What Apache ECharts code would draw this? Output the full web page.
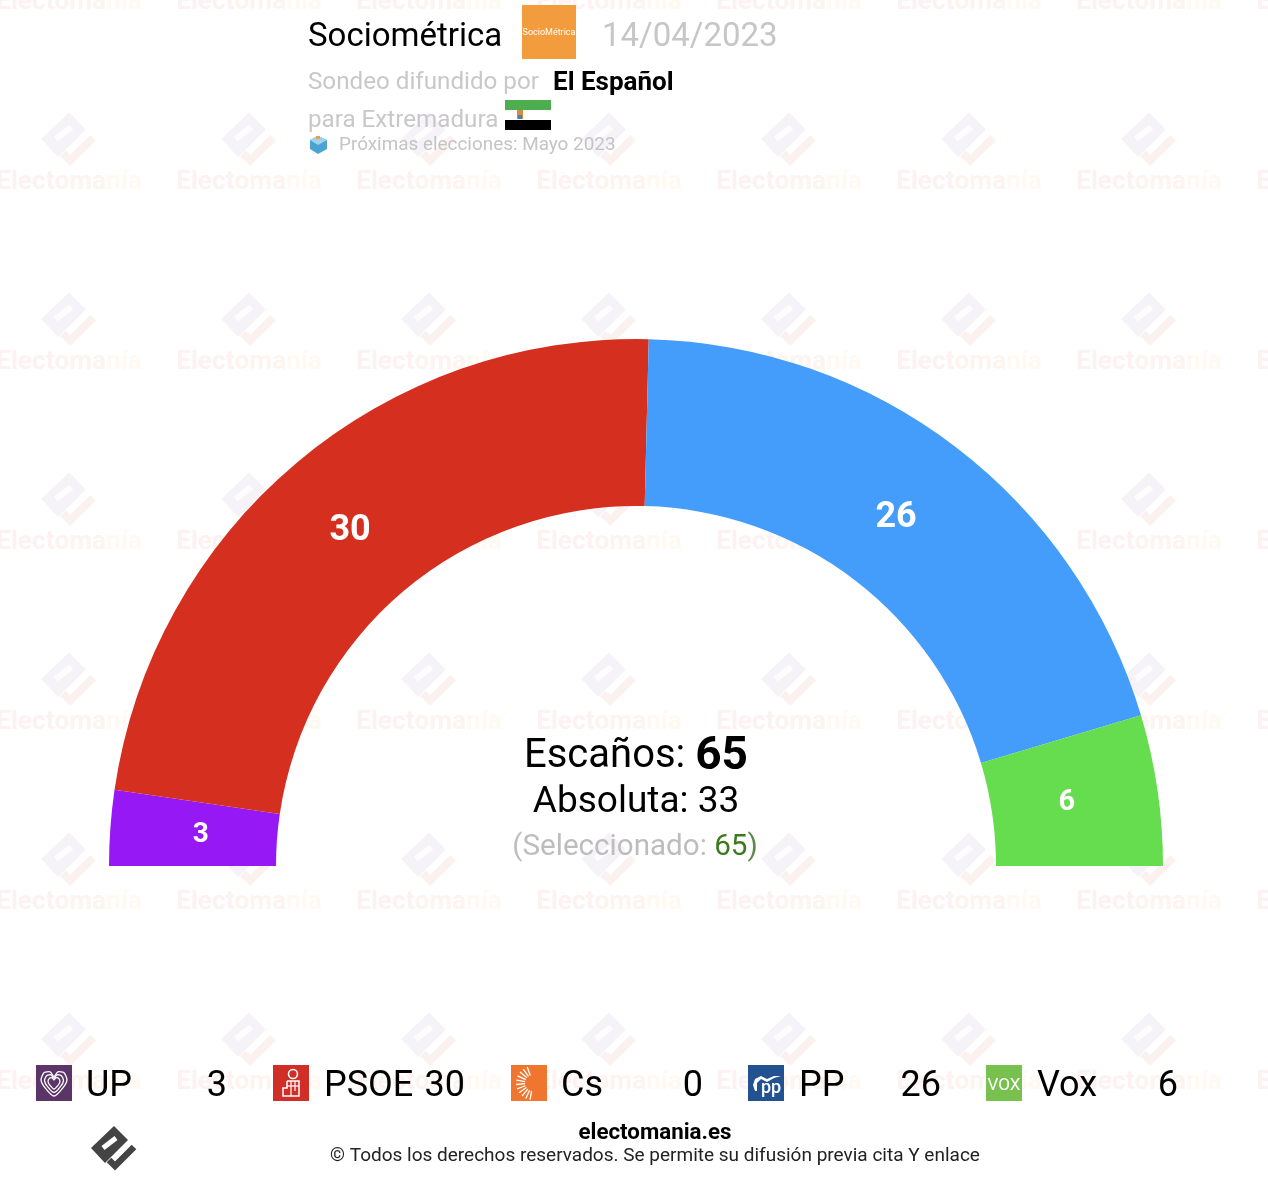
<!DOCTYPE html>
<html>
<head>
<meta charset="utf-8">
<style>html,body{margin:0;padding:0;background:#fff}#c{width:1268px;height:1184px}</style>
<script src="https://cdn.jsdelivr.net/npm/echarts@6/dist/echarts.min.js"></script>
</head>
<body>
<div id="c"></div>
<script>
const parties = ['UP', 'PSOE', 'Cs', 'PP', 'Vox'];
const seats = [3, 30, 0, 26, 6];
const arcColors = ['#9619f5', '#d52f1f', '#f07f2f', '#449dfa', '#66dd4e'];
const iconColors = ['#5b3568', '#d22e28', '#f0762f', '#22528f', '#78c14e'];
const totalSeats = 65;
const majority = 33;
const selected = 65;
const pollster = 'Sociométrica';
const pollDate = '14/04/2023';
const outlet = 'El Español';
const region = 'para Extremadura';
const nextElection = 'Próximas elecciones: Mayo 2023';

const F = 'Roboto, sans-serif';
const g = [];

function txt(x, y, text, size, fill, extra) {
  g.push({type:'text', x, y:y+size*0.08, z:(extra&&extra.z)||20, silent:true,
    style:Object.assign({text, fill, font:((extra&&extra.weight)||'400')+' '+size+'px '+F,
      textAlign:(extra&&extra.align)||'left', textVerticalAlign:'middle'}, extra&&extra.style)});
}
function poly(points, fill, z, smooth) { g.push({type:'polygon', z:z||20, silent:true, shape:{points, smooth:smooth||0}, style:{fill}}); }
function line(points, stroke, w, z, cap) {
  g.push({type:'polyline', z:z||20, silent:true, shape:{points},
    style:{stroke, lineWidth:w, fill:null, lineCap:cap||'butt', lineJoin:'miter'}});
}
function rect(x, y, w, h, fill, z) { g.push({type:'rect', z:z||20, silent:true, shape:{x,y,width:w,height:h}, style:{fill}}); }

/* brand mark: offsets relative to its centre, s = scale */
function mark(cx, cy, s, c1, c2, slot, z) {
  const P = (a, b) => [cx + a*s, cy + b*s];
  poly([P(-23,0),P(0,-22),P(14,-8),P(-9,15)], c1, z);
  line([P(-11,0),P(2,-10)], slot, 5*s, z);
  line([P(-5,12),P(1,18),P(20,-1)], c2, 6.5*s, z);
}

/* watermark tiles */
const wmX = [69, 249, 429, 609, 789, 969, 1149, 1329];
const wmY = [0, 180, 360, 540, 720, 900, 1080];
wmY.forEach(y => wmX.forEach(x => {
  if (y > 0) mark(x, y - 41, 1.2, '#f5f2f8', '#fbf1ef', '#fefdfe', 1);
  g.push({type:'text', x, y:y+2, z:1, silent:true, style:{
    text:'{a|Elect}{b|oma}{c|nía}', textAlign:'center', textVerticalAlign:'middle', font:'700 26.2px '+F,
    rich:{a:{fill:'#fdf2f1',font:'700 26.2px '+F},b:{fill:'#fdf4f0',font:'700 26.2px '+F},c:{fill:'#fff9f1',font:'700 26.2px '+F}}
  }});
}));

/* header */
txt(308, 35, pollster, 33, '#000');
rect(522, 5, 54, 54, '#f39c3d');
txt(549, 32, 'SocioMétrica', 9, '#fff', {align:'center'});
txt(602, 35, pollDate, 33, '#c6c6c6');
txt(308, 81, 'Sondeo difundido por', 24.2, '#c8c8c8');
txt(553, 81, outlet, 26, '#000', {weight:'700'});
txt(308, 119, region, 24.2, '#c8c8c8');
rect(505, 100, 46, 10, '#4cae4f');
rect(505, 120, 46, 10, '#000');
rect(517, 110, 6, 9, '#d98a3a');
rect(518, 115, 4, 4, '#4a7fb0');
poly([[310,140],[318,136],[327,140],[327,149],[318,154],[310,149]], '#4aa3d0');
poly([[310,140],[318,136],[327,140],[318,145]], '#9fd4ec');
poly([[316,136],[316,139],[320,139],[320,136]], '#f0a040');
txt(339, 144, nextElection, 18.9, '#c4c4c4');

/* centre block */
g.push({type:'text', x:636, y:757, z:20, silent:true, style:{
  text:'{a|Escaños: }{b|'+totalSeats+'}', textAlign:'center', textVerticalAlign:'middle',
  font:'400 40px '+F, rich:{a:{fill:'#000',font:'400 40px '+F},b:{fill:'#000',font:'700 46px '+F}}}});
txt(636, 800, 'Absoluta: '+majority, 37, '#000', {align:'center'});
g.push({type:'text', x:635, y:848, z:20, silent:true, style:{
  text:'{a|(Seleccionado: }{b|'+selected+'}{c|)}', textAlign:'center', textVerticalAlign:'middle',
  font:'400 29.6px '+F, rich:{a:{fill:'#bdbdbd',font:'400 29.6px '+F},b:{fill:'#3b7a1e',font:'400 29.6px '+F},c:{fill:'#5d8a4a',font:'400 29.6px '+F}}}});

/* legend row */
const iconX = [36, 273, 511, 748, 986];
const labelX = [86, 324, 561, 799, 1037];
const valueX = [227, 465, 703, 941, 1178];
parties.forEach((p, i) => {
  rect(iconX[i], 1065, 36, 36, iconColors[i]);
  txt(labelX[i], 1084, p, 36, '#000');
  txt(valueX[i], 1084, String(seats[i]), 36, '#000', {align:'right'});
});
/* UP heart */
const heartShape = [[0,1],[-0.7,0.35],[-1,-0.25],[-0.75,-0.8],[-0.3,-0.85],[0,-0.5],[0.3,-0.85],[0.75,-0.8],[1,-0.25],[0.7,0.35]];
[13, 9.5, 6].forEach(s => {
  g.push({type:'polygon', z:21, silent:true, shape:{points:heartShape.map(q => [54+q[0]*s, 1083+q[1]*s]), smooth:0.25},
    style:{fill:'none', stroke:'#fff', lineWidth:1.3}});
});
/* PSOE fist and rose */
g.push({type:'circle', z:21, silent:true, shape:{cx:293,cy:1074,r:4.5}, style:{fill:'none',stroke:'#fff',lineWidth:1.6}});
line([[287,1081],[299,1081],[299,1096],[283,1096],[283,1088],[287,1088],[287,1081]], '#fff', 1.5, 21);
line([[287,1086],[299,1086]], '#fff', 1.2, 21);
line([[291,1081],[291,1096]], '#fff', 1.2, 21);
line([[295,1081],[295,1091]], '#fff', 1.2, 21);
/* Cs rays */
[-80,-65,-50,-35,-20,-5,10,25,40,55,70].forEach(d => {
  const a = (180 + d) * Math.PI / 180, cx = 533, cy = 1083;
  line([[cx+8*Math.cos(a),cy+8*Math.sin(a)],[cx+17*Math.cos(a),cy+17*Math.sin(a)]], '#fff', 1.3, 21);
});
/* PP */
txt(771, 1087, 'pp', 18, '#fff', {align:'center', weight:'500', z:21});
poly([[755,1091],[753,1085],[755,1079],[761,1076],[767,1079],[774,1076],[781,1076],[774,1078],[767,1082],[761,1079],[757,1083],[757,1091]], '#fff', 21);
/* Vox */
txt(1004, 1084, 'VOX', 17, '#fff', {align:'center', z:21});

/* footer */
mark(114, 1148, 1, '#444', '#444', '#fff', 20);
txt(655, 1132, 'electomania.es', 22.3, '#000', {align:'center', weight:'700'});
txt(655, 1155, '© Todos los derechos reservados. Se permite su difusión previa cita Y enlace', 19, '#222', {align:'center'});

const labelSizes = [28, 36, 28, 36, 29];
const labelNudgeX = [10, 2, 0, -11, -11];
const labelNudgeY = [1, 6, 0, 7, 1];
const pieData = parties.map((p, i) => ({
  name: p, value: seats[i],
  itemStyle: {color: arcColors[i]},
  label: {show: seats[i] > 0, fontSize: labelSizes[i]}
}));

const chart = echarts.init(document.getElementById('c'), null, {width:1268, height:1184});
chart.setOption({
  animation:false,
  backgroundColor:'#fff',
  graphic:{elements:g},
  series:[{
    type:'pie', z:10,
    center:[636, 866], radius:[360, 527],
    startAngle:180, endAngle:0, clockwise:true,
    avoidLabelOverlap:false, silent:true,
    stillShowZeroSum:true, minShowLabelAngle:0,
    label:{position:'inside', formatter:'{c}', color:'#fff', fontWeight:700, fontFamily:'Roboto'},
    labelLayout:p => ({dx:labelNudgeX[p.dataIndex], dy:labelNudgeY[p.dataIndex]}),
    labelLine:{show:false},
    itemStyle:{borderWidth:0},
    data:pieData
  }]
});
</script>
</body>
</html>
